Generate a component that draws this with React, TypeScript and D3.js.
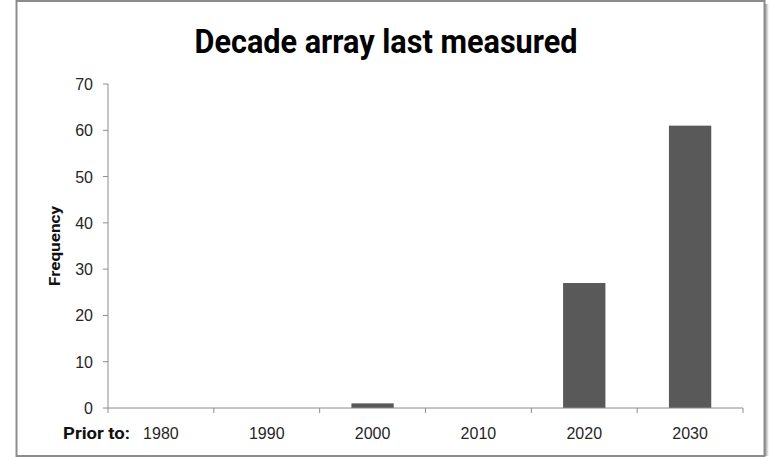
import React, { useRef, useEffect } from 'react';
import * as d3 from 'd3';

const decades = ['1980', '1990', '2000', '2010', '2020', '2030'];
const counts = [0, 0, 1, 0, 27, 61];
const yTicks = [0, 10, 20, 30, 40, 50, 60, 70];

const W = 770;
const H = 457;

const App: React.FC = () => {
    const ref = useRef<SVGSVGElement | null>(null);

    useEffect(() => {
        const svg = d3.select(ref.current);
        svg.selectAll('*').remove();

        const left = 108, right = 743, top = 84, bottom = 408;

        // frame with a little shadow on the right
        const grad = svg.append('defs').append('linearGradient').attr('id', 'shadow');
        grad.append('stop').attr('offset', '0%').attr('stop-color', '#9a9a9a');
        grad.append('stop').attr('offset', '100%').attr('stop-color', '#ffffff');
        svg.append('rect').attr('x', 765).attr('y', 4).attr('width', 4).attr('height', 452).attr('fill', 'url(#shadow)');
        svg.append('rect')
            .attr('x', 16.5).attr('y', 1).attr('width', 748).attr('height', 455)
            .attr('fill', 'white').attr('stroke', '#8c8c8c').attr('stroke-width', 2);

        svg.append('text')
            .attr('x', 386).attr('y', 53)
            .attr('text-anchor', 'middle')
            .attr('font-family', 'Roboto, Arial, sans-serif')
            .attr('font-weight', 'bold')
            .attr('font-size', 33)
            .attr('textLength', 383)
            .attr('lengthAdjust', 'spacingAndGlyphs')
            .text('Decade array last measured');

        const x = d3.scaleBand<string>().domain(decades).range([left, right]).paddingInner(0.6).paddingOuter(0.3);
        const y = d3.scaleLinear().domain([0, 70]).range([bottom, top]);

        svg.append('g')
            .selectAll('rect')
            .data(decades)
            .enter()
            .append('rect')
            .attr('x', d => x(d)!)
            .attr('width', x.bandwidth())
            .attr('y', (d, i) => y(counts[i]))
            .attr('height', (d, i) => bottom - y(counts[i]))
            .attr('fill', '#595959');

        const axisColor = '#8c8c8c';
        // y axis
        svg.append('line').attr('x1', left).attr('x2', left).attr('y1', top).attr('y2', bottom).attr('stroke', axisColor);
        const yt = svg.append('g').selectAll('g').data(yTicks).enter().append('g');
        yt.append('line').attr('x1', left - 5).attr('x2', left).attr('y1', d => y(d)).attr('y2', d => y(d)).attr('stroke', axisColor);
        yt.append('text')
            .attr('x', left - 15).attr('y', d => y(d) + 6)
            .attr('text-anchor', 'end')
            .attr('font-family', 'Liberation Sans, Arial, sans-serif')
            .attr('font-size', 16)
            .attr('fill', '#262626')
            .text(d => d);

        // x axis
        svg.append('line').attr('x1', left).attr('x2', right).attr('y1', bottom).attr('y2', bottom).attr('stroke', axisColor);
        const step = (right - left) / decades.length;
        const edges = d3.range(decades.length + 1).map(i => left + i * step);
        svg.append('g').selectAll('line').data(edges).enter().append('line')
            .attr('x1', d => d).attr('x2', d => d).attr('y1', bottom).attr('y2', bottom + 5).attr('stroke', axisColor);
        svg.append('g').selectAll('text').data(decades).enter().append('text')
            .attr('x', d => x(d)! + x.bandwidth() / 2)
            .attr('y', 439)
            .attr('text-anchor', 'middle')
            .attr('font-family', 'Liberation Sans, Arial, sans-serif')
            .attr('font-size', 16)
            .attr('fill', '#262626')
            .text(d => d);

        svg.append('text')
            .attr('x', 63).attr('y', 439)
            .attr('font-family', 'Roboto, Arial, sans-serif')
            .attr('font-weight', 'bold')
            .attr('font-size', 16)
            .attr('textLength', 67)
            .attr('lengthAdjust', 'spacingAndGlyphs')
            .attr('fill', '#111')
            .text('Prior to:');

        svg.append('text')
            .attr('transform', `translate(60,${(top + bottom) / 2}) rotate(-90)`)
            .attr('text-anchor', 'middle')
            .attr('font-family', 'Roboto, Arial, sans-serif')
            .attr('font-weight', 'bold')
            .attr('font-size', 14)
            .attr('textLength', 80)
            .attr('lengthAdjust', 'spacingAndGlyphs')
            .attr('fill', '#111')
            .text('Frequency');
    }, []);

    return <svg ref={ref} width={W} height={H} style={{ position: 'absolute', left: 0, top: 0 }}></svg>;
};

export default App;
